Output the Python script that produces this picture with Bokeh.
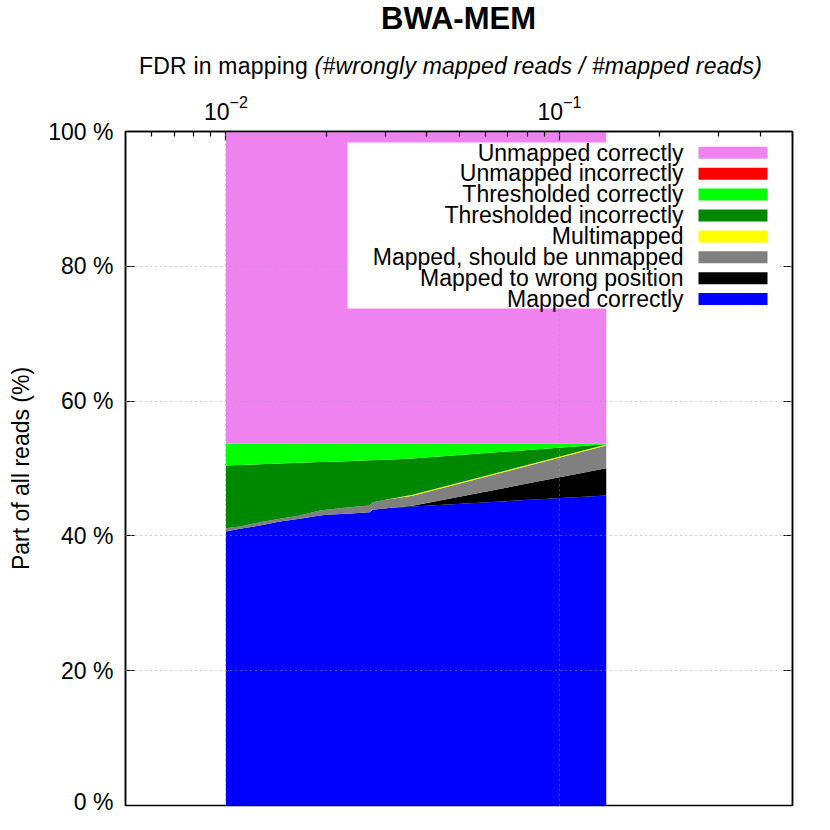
from bokeh.plotting import figure
from bokeh.layouts import column
from bokeh.models import (ColumnDataSource, Range1d, LinearAxis, FixedTicker,
                          Label, BoxAnnotation, PrintfTickFormatter, Div)
from bokeh.embed import file_html
from bokeh.resources import INLINE

# ---------------- data ----------------
title_text = "BWA-MEM"
xlabel_plain = "FDR in mapping"
xlabel_italic = "(#wrongly mapped reads / #mapped reads)"
ylabel_text = "Part of all reads (%)"

fdr = [0.01000, 0.01101, 0.01264, 0.01451, 0.01666, 0.01912, 0.02006,
       0.02303, 0.02699, 0.02755, 0.03034, 0.03630, 0.1382]

mapped_correctly = [40.65, 41.05, 41.54, 42.14, 42.54, 43.03, 43.13,
                    43.28, 43.52, 43.87, 44.11, 44.36, 45.99]
mapped_wrong_position = [0.0, 0.0, 0.0, 0.0, 0.0, 0.0, 0.0,
                         0.0, 0.0, 0.0, 0.0, 0.10, 4.05]
mapped_should_be_unmapped = [0.49, 0.34, 0.49, 0.40, 0.49, 0.74, 0.74,
                             0.93, 0.99, 1.13, 1.29, 1.49, 3.36]
multimapped = [0.0, 0.0, 0.0, 0.0, 0.0, 0.0, 0.0,
               0.0, 0.0, 0.0, 0.0, 0.15, 0.15]
thresholded_incorrectly = [9.31, 9.13, 8.60, 8.20, 7.81, 7.18, 7.11,
                           6.88, 6.70, 6.23, 5.90, 5.40, 0.05]
thresholded_correctly = [3.21, 3.14, 3.03, 2.92, 2.82, 2.71, 2.68,
                         2.57, 2.45, 2.43, 2.36, 2.16, 0.06]
unmapped_incorrectly = [0.0, 0.0, 0.0, 0.0, 0.0, 0.0, 0.0,
                        0.0, 0.0, 0.0, 0.0, 0.0, 0.0]
unmapped_correctly = [46.34, 46.34, 46.34, 46.34, 46.34, 46.34, 46.34,
                      46.34, 46.34, 46.34, 46.34, 46.34, 46.34]

# stacking order: bottom -> top
series_keys = ["mapped_correctly", "mapped_wrong_position", "mapped_should_be_unmapped",
               "multimapped", "thresholded_incorrectly", "thresholded_correctly",
               "unmapped_incorrectly", "unmapped_correctly"]
series_names = ["Mapped correctly", "Mapped to wrong position", "Mapped, should be unmapped",
                "Multimapped", "Thresholded incorrectly", "Thresholded correctly",
                "Unmapped incorrectly", "Unmapped correctly"]
series_colors = ["#0000ff", "#000000", "#808080", "#ffff00",
                 "#008800", "#00ff00", "#ff0000", "#ee82ee"]

x_major_ticks = [0.01, 0.1]
x_minor_ticks = [0.006, 0.007, 0.008, 0.009, 0.02, 0.03, 0.04, 0.05, 0.06,
                 0.07, 0.08, 0.09, 0.2, 0.3, 0.4, 0.5]
y_ticks = [0, 20, 40, 60, 80, 100]

# ---------------- styles ----------------
FONT = "Liberation Sans"
TXT = "23px"
W = 814
HEADER_H = 82

# ---------------- header: title + top-axis label (real HTML text) ----------------
header_html = (
    f'<div style="position:relative;width:{W}px;height:{HEADER_H}px;'
    f"font-family:'{FONT}';color:black;\">"
    f'<div style="position:absolute;left:258px;width:401px;top:3px;text-align:center;'
    f'font-weight:bold;font-size:31px;line-height:1;white-space:nowrap;">{title_text}</div>'
    f'<div style="position:absolute;left:139px;top:55px;font-size:23px;line-height:1;'
    f'letter-spacing:0.2px;white-space:nowrap;">{xlabel_plain} <i>{xlabel_italic}</i></div>'
    '</div>'
)
hdr = Div(text=header_html, width=W, height=HEADER_H, margin=0)

# ---------------- main chart ----------------
source = ColumnDataSource(data=dict(
    fdr=fdr,
    mapped_correctly=mapped_correctly,
    mapped_wrong_position=mapped_wrong_position,
    mapped_should_be_unmapped=mapped_should_be_unmapped,
    multimapped=multimapped,
    thresholded_incorrectly=thresholded_incorrectly,
    thresholded_correctly=thresholded_correctly,
    unmapped_incorrectly=unmapped_incorrectly,
    unmapped_correctly=unmapped_correctly,
))

MAIN_H = 814 - HEADER_H
TOP = 131 - HEADER_H
p = figure(width=W, height=MAIN_H, x_axis_type="log", x_axis_location="above",
           x_range=Range1d(0.005, 0.5), y_range=Range1d(0, 100),
           output_backend="svg", toolbar_location=None,
           min_border_left=125, min_border_right=22,
           min_border_top=TOP, min_border_bottom=MAIN_H - TOP - 674)
p.title.visible = False
p.background_fill_color = "white"
p.border_fill_color = "white"
p.outline_line_color = "black"
p.outline_line_width = 1.5

p.varea_stack(stackers=series_keys, x="fdr", color=series_colors, source=source)

# top (log) axis
xa = p.xaxis[0]
xa.ticker = FixedTicker(ticks=x_major_ticks, minor_ticks=x_minor_ticks)
xa.major_label_text_font = FONT
xa.major_label_text_font_size = TXT
xa.major_label_text_color = "black"
xa.major_label_standoff = 12
xa.major_tick_in = 9
xa.major_tick_out = 0
xa.minor_tick_in = 5
xa.minor_tick_out = 0
xa.axis_line_width = 1.5
xa.major_tick_line_width = 1.2
xa.minor_tick_line_width = 1.2

# left axis
ya = p.yaxis[0]
ya.ticker = FixedTicker(ticks=y_ticks)
ya.formatter = PrintfTickFormatter(format="%d %%")
ya.major_label_text_font = FONT
ya.major_label_text_font_size = TXT
ya.major_label_text_color = "black"
ya.major_label_standoff = 12
ya.major_tick_in = 9
ya.major_tick_out = 0
ya.minor_tick_line_color = None
ya.axis_line_width = 1.5
ya.major_tick_line_width = 1.2
ya.axis_label = ylabel_text
ya.axis_label_text_font = FONT
ya.axis_label_text_font_size = TXT
ya.axis_label_text_font_style = "normal"
ya.axis_label_text_color = "black"
ya.axis_label_standoff = 11

# right axis (ticks only)
ra = LinearAxis(ticker=FixedTicker(ticks=y_ticks))
ra.major_label_text_font_size = "0px"
ra.major_label_text_color = None
ra.major_label_standoff = 0
ra.major_tick_in = 9
ra.major_tick_out = 0
ra.minor_tick_line_color = None
ra.axis_line_width = 1.5
ra.major_tick_line_width = 1.2
p.add_layout(ra, "right")

# grids drawn above the filled areas
for g in (p.xgrid[0], p.ygrid[0]):
    g.grid_line_color = "#a0a0a0"
    g.grid_line_dash = "1 4"
    g.grid_line_width = 1
    g.level = "guide"
p.xgrid[0].ticker = xa.ticker
p.ygrid[0].ticker = ya.ticker

# custom legend (labels right-aligned, swatches on the right), frame-relative screen units
p.add_layout(BoxAnnotation(left=222, right=653, top=663, bottom=497,
                           left_units="screen", right_units="screen",
                           top_units="screen", bottom_units="screen",
                           fill_color="white", fill_alpha=1.0, line_color=None))
row_gap = 20.9
for i, k in enumerate(reversed(range(len(series_names)))):
    base = 653.0 - row_gap * i
    p.add_layout(Label(x=558, y=base, x_units="screen", y_units="screen",
                       text=series_names[k], text_font=FONT, text_font_size=TXT,
                       text_baseline="alphabetic", text_align="right",
                       text_color="black"))
    p.add_layout(BoxAnnotation(left=573, right=642,
                               top=658.7 - row_gap * i, bottom=646.7 - row_gap * i,
                               left_units="screen", right_units="screen",
                               top_units="screen", bottom_units="screen",
                               fill_color=series_colors[k], fill_alpha=1.0,
                               line_color=None))

layout = column(hdr, p, spacing=0)
open("out.html", "w").write(file_html(layout, INLINE))
